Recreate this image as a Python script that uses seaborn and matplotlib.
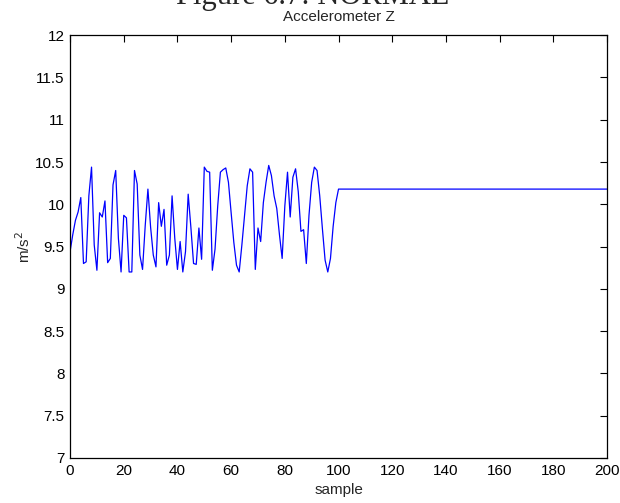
import numpy as np
import pandas as pd
import matplotlib
matplotlib.use("Agg")
import matplotlib.pyplot as plt
import seaborn as sns

# accelerometer z readings, samples 0..100, then the last value holds until 200
samples = list(range(0, 101)) + [200]
accel_z = [
    9.44, 9.64, 9.81, 9.91, 10.08, 9.30, 9.32, 10.10, 10.44, 9.52,
    9.22, 9.90, 9.85, 10.04, 9.31, 9.36, 10.23, 10.40, 9.60, 9.20,
    9.87, 9.84, 9.20, 9.20, 10.40, 10.24, 9.40, 9.23, 9.75, 10.18,
    9.73, 9.40, 9.26, 10.02, 9.74, 9.94, 9.28, 9.40, 10.10, 9.60,
    9.23, 9.56, 9.20, 9.44, 10.12, 9.73, 9.30, 9.29, 9.72, 9.35,
    10.44, 10.39, 10.38, 9.22, 9.47, 9.98, 10.38, 10.41, 10.43, 10.26,
    9.90, 9.55, 9.28, 9.20, 9.52, 9.87, 10.22, 10.42, 10.38, 9.23,
    9.72, 9.56, 10.02, 10.26, 10.46, 10.34, 10.10, 9.95, 9.64, 9.36,
    9.98, 10.38, 9.85, 10.32, 10.42, 10.15, 9.68, 9.70, 9.30, 9.87,
    10.26, 10.44, 10.40, 10.10, 9.71, 9.34, 9.20, 9.36, 9.74, 10.02,
    10.18, 10.18,
]

df = pd.DataFrame({"sample": samples, "accel": accel_z})

sns.set_style("white")
plt.rcParams["font.family"] = ["Liberation Sans", "DejaVu Sans"]

fig = plt.figure(figsize=(6.2, 5.03), dpi=100)
ax = fig.add_axes([0.113, 0.0895, 0.866, 0.8405])

sns.lineplot(data=df, x="sample", y="accel", color="#0000ff", linewidth=0.9, ax=ax)

ax.set_xlim(0, 200)
ax.set_ylim(7, 12)
ax.set_xticks(np.arange(0, 201, 20))
ax.set_yticks(np.arange(7, 12.01, 0.5))
ax.set_yticklabels(["7", "7.5", "8", "8.5", "9", "9.5", "10", "10.5", "11", "11.5", "12"])
ax.tick_params(direction="in", top=True, right=True, length=5, width=0.8,
               labelsize=11, colors="black", pad=4)
for s in ax.spines.values():
    s.set_linewidth(0.9)
    s.set_color("black")

ax.set_xlabel("sample", fontsize=11, labelpad=4)
ax.set_ylabel("m/s$^2$", fontsize=11, labelpad=1)
ax.set_title("Accelerometer Z", fontsize=11, pad=10)

# figure caption, cut off by the top edge
fig.text(0.505, 0.992, "Figure 6.7: NORMAL", fontsize=22, ha="center", va="baseline",
         family=["Liberation Serif", "DejaVu Serif"])

fig.savefig("out.png", dpi=100)
